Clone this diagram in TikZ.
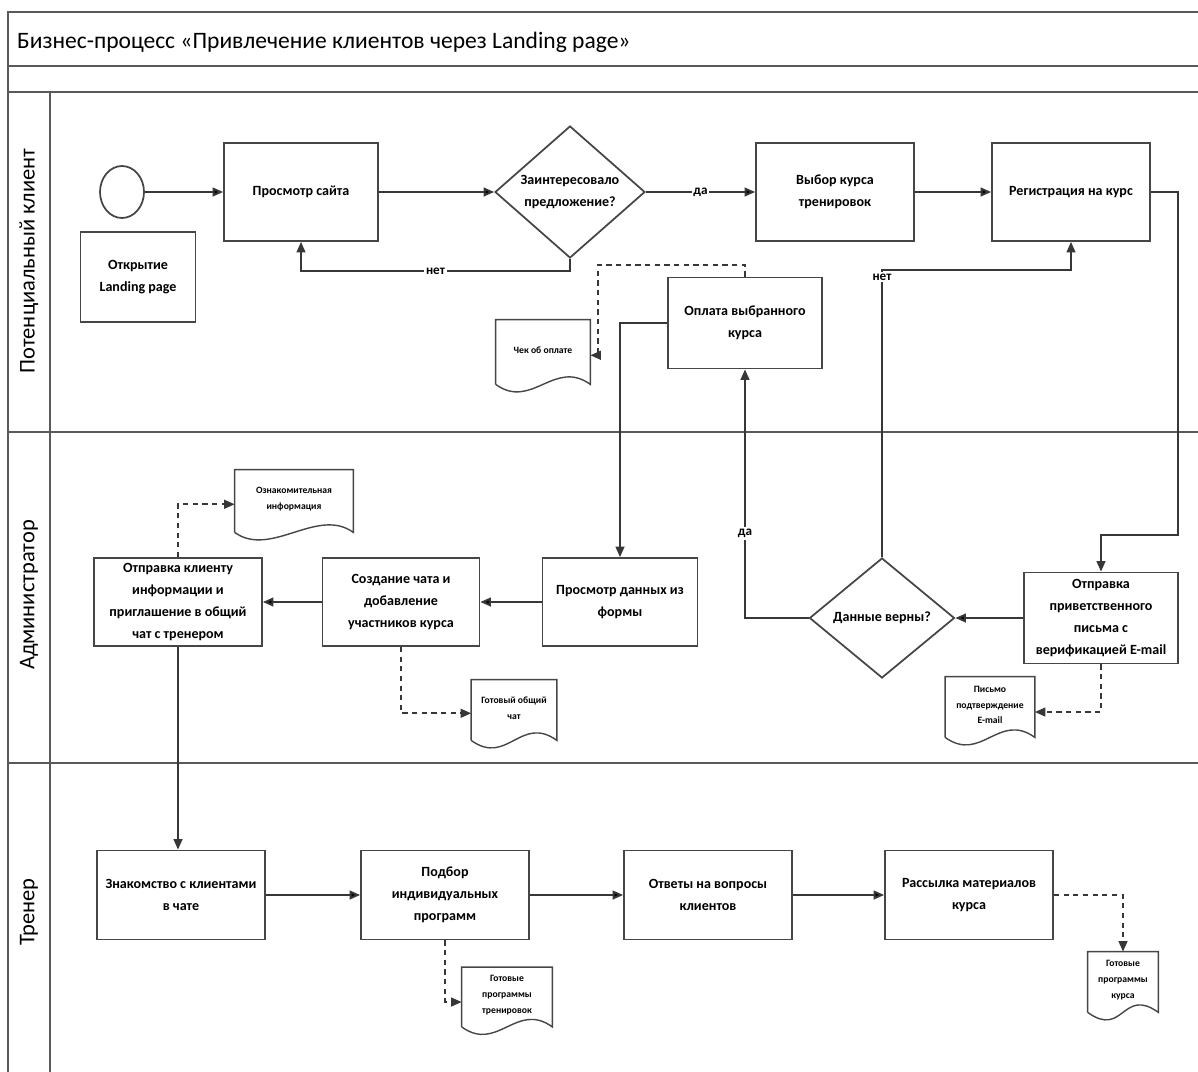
\documentclass[tikz,border=0pt]{standalone}
\usepackage{fontspec}
\setmainfont{Carlito}
\usetikzlibrary{positioning, arrows.meta, calc, shapes.geometric}
\definecolor{cL}{RGB}{55,55,55}
\definecolor{cB}{RGB}{70,70,70}

\begin{document}
\begin{tikzpicture}[x=0.02cm, y=-0.02cm,
    box/.style={rectangle, draw=cB, line width=1pt, minimum width=3.1cm, minimum height=1.78cm,
                align=center, inner sep=2pt, font=\fontsize{8}{12.5}\selectfont\bfseries},
    decision/.style={diamond, draw=cB, line width=1pt, align=center, inner sep=0pt,
                font=\fontsize{8}{12.5}\selectfont\bfseries},
    doc/.style={rectangle, minimum width=1.8cm, minimum height=1.12cm, align=center, inner sep=1pt,
                font=\fontsize{5.5}{9}\selectfont\bfseries},
    docline/.style={draw=cB, line width=0.8pt},
    flow/.style={draw=cL, line width=1.1pt, -{Triangle[length=6pt,width=5pt]}},
    dataflow/.style={flow, dash pattern=on 3pt off 2.5pt},
    frame/.style={draw=black!65, line width=1.2pt},
    lbl/.style={fill=white, inner sep=1pt, font=\fontsize{7.5}{9}\selectfont\bfseries}]
    \useasboundingbox (0,0) rectangle (1198,1072);

    % Pool and swim lanes
    \draw[frame] (8,1072) -- (8,12) -- (1198,12);
    \foreach \ly in {66,92,432,763}
        \draw[frame] (8,\ly) -- (1198,\ly);
    \draw[frame] (50,92) -- (50,1072);
    \node[anchor=west, font=\fontsize{13.4}{16}\selectfont] (title) at (11,42)
        {Бизнес-процесс «Привлечение клиентов через Landing page»};
    \node[rotate=90, font=\fontsize{12.8}{14}\selectfont] (lane1) at (29,261) {Потенциальный клиент};
    \node[rotate=90, font=\fontsize{12.8}{14}\selectfont] (lane2) at (29,595) {Администратор};
    \node[rotate=90, font=\fontsize{12.8}{14}\selectfont] (lane3) at (29,912) {Тренер};

    % Client lane
    \node[ellipse, draw=cB, line width=1pt, minimum width=0.88cm, minimum height=1.04cm] (start) at (122,192) {};
    \node[box, minimum width=2.3cm, minimum height=1.8cm] (open) at (138,277) {Открытие\\Landing page};
    \node[box, minimum width=3.08cm, minimum height=1.96cm] (view) at (301,192) {Просмотр сайта};
    \node[decision, minimum width=3cm, minimum height=2.5cm] (interest) at (570,192) {Заинтересовало\\предложение?};
    \node[box, minimum width=3.16cm, minimum height=1.96cm] (choose) at (835,192) {Выбор курса\\тренировок};
    \node[box, minimum width=3.16cm, minimum height=1.96cm] (reg) at (1071,192) {Регистрация на курс};
    \node[box, minimum width=3.08cm, minimum height=1.82cm] (pay) at (745,323) {Оплата выбранного\\курса};
    \node[doc, minimum width=1.88cm, minimum height=1.2cm] (receipt) at (543,350) {Чек об оплате};

    % Administrator lane
    \node[doc, minimum width=2.36cm, minimum height=1.16cm] (intro) at (294,499) {Ознакомительная\\информация};
    \node[box, minimum width=3.36cm, minimum height=1.76cm] (invite) at (178,602)
        {Отправка клиенту\\информации и\\приглашение в общий\\чат с тренером};
    \node[box, minimum width=3.14cm, minimum height=1.76cm] (newchat) at (401,602)
        {Создание чата и\\добавление\\участников курса};
    \node[box, minimum width=3.1cm, minimum height=1.76cm] (formdata) at (620,602) {Просмотр данных из\\формы};
    \node[decision, minimum width=2.9cm, minimum height=2.4cm] (valid) at (882,618) {Данные верны?};
    \node[box, minimum width=3.08cm, minimum height=1.82cm] (welcome) at (1101,618)
        {Отправка\\приветственного\\письма с\\верификацией E-mail};
    \node[doc, minimum width=1.78cm] (letter) at (990,705) {Письмо\\подтверждение\\E-mail};
    \node[doc, minimum width=1.7cm] (chat) at (514,708) {Готовый общий\\чат};

    % Trainer lane
    \node[box, minimum width=3.36cm] (meet) at (181,895) {Знакомство с клиентами\\в чате};
    \node[box, minimum width=3.36cm] (pick) at (445,895) {Подбор\\индивидуальных\\программ};
    \node[box, minimum width=3.36cm] (answer) at (708,895) {Ответы на вопросы\\клиентов};
    \node[box, minimum width=3.36cm] (mailing) at (969,895) {Рассылка материалов\\курса};
    \node[doc, minimum height=1.1cm] (progs) at (507,995) {Готовые\\программы\\тренировок};
    \node[doc, minimum width=1.4cm] (mats) at (1123,980) {Готовые\\программы\\курса};

    % Document outlines
    \foreach \d in {receipt,intro,letter,chat,progs,mats}
        \draw[docline] ([yshift=-2.3pt]\d.south west) -- (\d.north west) -- (\d.north east)
            -- ([yshift=-2.3pt]\d.south east) .. controls +(-36,-26) and +(36,26) .. ([yshift=-2.3pt]\d.south west);

    % Connections
    \path[flow]
    (start) edge (start -| view.west)
    (view) edge (interest)
    (interest) edge node[lbl] {да} (choose)
    (choose) edge (reg)
    (welcome) edge (valid)
    (formdata) edge (newchat)
    (newchat) edge (invite)
    (meet) edge (pick)
    (pick) edge (answer)
    (answer) edge (mailing);

    \coordinate (regturn) at (1178,535);
    \coordinate (noturn) at (882,270);
    \draw[flow] (interest.south) -- ++(0,12) -| node[lbl, pos=0.25] {нет} (view.south);
    \draw[flow] (reg.east) -| (regturn) -| (welcome.north);
    \draw[flow] (valid.west) -| node[lbl, pos=0.67] {да} (pay.south);
    \draw[flow] (valid.north) -- (noturn) node[lbl, yshift=-4pt] {нет} -| (reg.south);
    \draw[flow] (pay.west) -| (formdata.north);
    \draw[flow] (invite.south) -- (invite.south |- meet.north);

    \draw[dataflow] (pay.north) |- (598,265) |- ([yshift=-3pt]receipt.east);
    \draw[dataflow] (invite.north) |- ([yshift=-3pt]intro.west);
    \draw[dataflow] (newchat.south) |- ([yshift=-3pt]chat.west);
    \draw[dataflow] (welcome.south) |- ([yshift=-4pt]letter.east);
    \draw[dataflow] (pick.south) |- ([yshift=-4pt]progs.west);
    \draw[dataflow] (mailing.east) -| (mats.north);
\end{tikzpicture}
\end{document}
